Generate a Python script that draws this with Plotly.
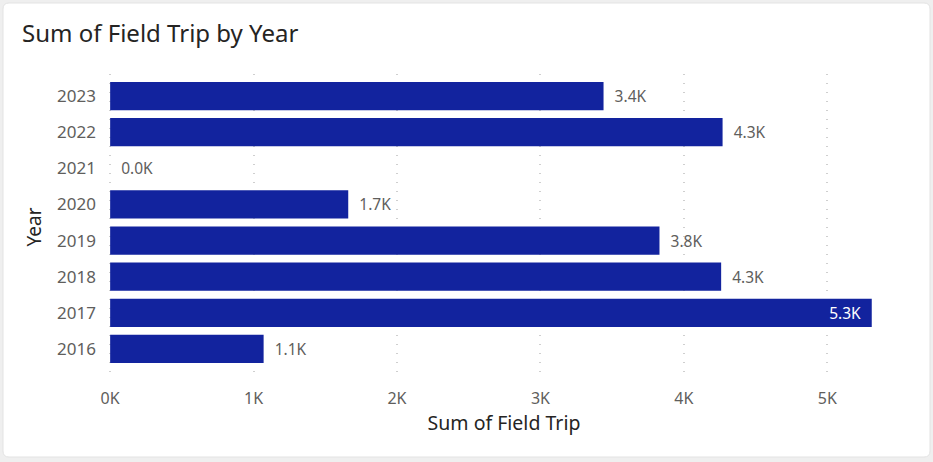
import plotly.graph_objects as go

# Field trip totals per year
years = ["2016", "2017", "2018", "2019", "2020", "2021", "2022", "2023"]
field_trips = [1070, 5310, 4260, 3830, 1660, 0, 4270, 3440]

x_tick_values = [0, 1000, 2000, 3000, 4000, 5000]
x_tick_labels = ["0K", "1K", "2K", "3K", "4K", "5K"]

BAR_COLOR = "#12239E"
LABEL_GRAY = "#605E5C"
DARK = "#252423"
FONT = "Segoe UI, Noto Sans, sans-serif"
PAD = "\u00a0\u00a0"

x_min, x_max = -8, 5500
# Labels go outside the bar unless the bar reaches the right edge
positions = ["inside" if v > 0.9 * x_max else "outside" for v in field_trips]
labels = [
    f"{v / 1000:.1f}K{PAD}" if p == "inside" else f"{PAD}{v / 1000:.1f}K"
    for v, p in zip(field_trips, positions)
]
label_colors = ["#FFFFFF" if p == "inside" else LABEL_GRAY for p in positions]

fig = go.Figure(
    go.Bar(
        y=years,
        x=field_trips,
        orientation="h",
        marker=dict(color=BAR_COLOR, line=dict(width=0)),
        text=labels,
        textposition=positions,
        insidetextanchor="end",
        textfont=dict(family=FONT, size=15.5, color=label_colors),
        cliponaxis=False,
        hoverinfo="skip",
    )
)

# Plot area in pixels, used to place the card outline in paper units
W, H = 933, 462
L, R, T, B = 109, 34, 74, 82
pw, ph = W - L - R, H - T - B


def px_to_paper(px, py):
    return (px - L) / pw, (H - B - py) / ph


x0, y0 = px_to_paper(3, 3)
x1, y1 = px_to_paper(930, 457)
rx, ry = 6 / pw, 6 / ph
card = (
    f"M {x0 + rx} {y0} L {x1 - rx} {y0} Q {x1} {y0} {x1} {y0 - ry} "
    f"L {x1} {y1 + ry} Q {x1} {y1} {x1 - rx} {y1} "
    f"L {x0 + rx} {y1} Q {x0} {y1} {x0} {y1 + ry} "
    f"L {x0} {y0 - ry} Q {x0} {y0} {x0 + rx} {y0} Z"
)

fig.update_layout(
    width=W,
    height=H,
    margin=dict(l=L, r=R, t=T, b=B),
    paper_bgcolor="#EFEFEF",
    plot_bgcolor="rgba(0,0,0,0)",
    bargap=0.22,
    showlegend=False,
    font=dict(family=FONT, color=LABEL_GRAY),
    title=dict(
        text="Sum of Field Trip by Year",
        font=dict(family=FONT, size=24, color=DARK),
        xref="container",
        yref="container",
        x=22 / W,
        y=1 - 34 / H,
        xanchor="left",
        yanchor="middle",
    ),
    shapes=[
        dict(
            type="path",
            path=card,
            xref="paper",
            yref="paper",
            fillcolor="#FFFFFF",
            line=dict(color="#E3E3E3", width=1),
            layer="below",
        )
    ],
    xaxis=dict(
        range=[x_min, x_max],
        tickvals=x_tick_values,
        ticktext=x_tick_labels,
        tickfont=dict(family=FONT, size=16, color=LABEL_GRAY),
        showgrid=True,
        gridcolor="#CFCFCF",
        griddash="1px,8px",
        gridwidth=1.5,
        zeroline=False,
        showline=False,
        ticks="",
        ticklabelstandoff=7,
        title=dict(
            text="Sum of Field Trip",
            font=dict(family=FONT, size=19.5, color=DARK),
            standoff=8,
        ),
    ),
    yaxis=dict(
        type="category",
        categoryorder="array",
        categoryarray=years,
        range=[-0.86, 7.61],
        tickfont=dict(family=FONT, size=17, color=LABEL_GRAY),
        showgrid=False,
        zeroline=False,
        showline=False,
        ticks="",
        ticklabelstandoff=12,
        title=dict(
            text="Year",
            font=dict(family=FONT, size=19, color=DARK),
            standoff=10,
        ),
    ),
)

fig.write_html("out.html")
